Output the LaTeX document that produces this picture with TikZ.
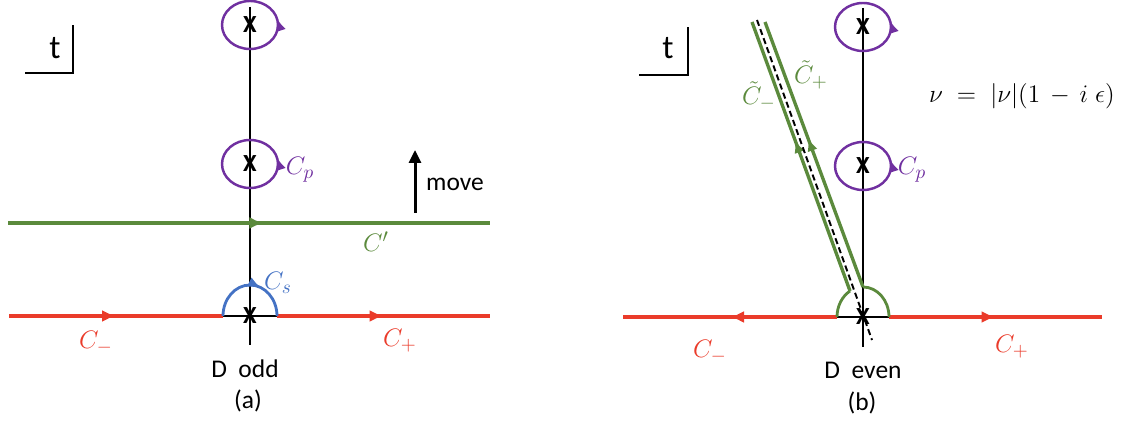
\documentclass[tikz,border=0pt]{standalone}
\usepackage{fontspec}
\setmainfont{Carlito}
\usepackage{xcolor}
\usepackage{tikz}
\usetikzlibrary{arrows.meta,positioning,decorations.markings}
\definecolor{cfred}{HTML}{EA3B2A}
\definecolor{cfgreen}{HTML}{5B8A3C}
\definecolor{cfpurple}{HTML}{7030A0}
\definecolor{cfblue}{HTML}{4472C4}

\begin{document}
\begin{tikzpicture}[
  x=0.02cm, y=0.02cm,
  axis/.style={draw=black, line width=1.1pt},
  redpath/.style={draw=cfred, line width=1.9pt},
  greenpath/.style={draw=cfgreen, line width=1.9pt},
  loop/.style={draw=cfpurple, line width=1.4pt},
  halfloop/.style={line width=1.6pt},
  cut/.style={draw=black, line width=1.1pt, dash pattern=on 3.5pt off 2pt},
  midarrow/.style={postaction={decorate}, decoration={markings,
      mark=at position #1 with {\arrow{Latex[length=2.8mm,width=2.4mm]}}}},
  smallarrow/.style={postaction={decorate}, decoration={markings,
      mark=at position #1 with {\arrow{Latex[length=2.5mm,width=2.1mm]}}}},
  pole/.style={font=\fontsize{14}{14}\selectfont\bfseries, inner sep=0pt},
  lbl/.style={font=\fontsize{15.5}{17}\selectfont, inner sep=0pt},
  txt/.style={font=\fontsize{14.5}{16}\selectfont, inner sep=0pt},
  tlabel/.style={font=\fontsize{19}{21}\selectfont, inner sep=0pt}
]
\useasboundingbox (0,0) rectangle (1125,-421);

% ---- (a) D odd ----
\coordinate (atop) at (250,-7);
\coordinate (abot) at (250,-345);
\draw[axis] (atop) -- (abot);

\node[pole] (ap1) at (250,-25) {X};
\node[pole] (ap2) at (250,-164) {X};
\node[pole] (ap0) at (250,-316) {X};

\draw[loop, smallarrow=0.04] (ap1) ++(28,0) arc[start angle=0, end angle=360, x radius=28, y radius=24];
\draw[loop, smallarrow=0.04] (ap2) ++(28,0) arc[start angle=0, end angle=360, x radius=28, y radius=24];

\coordinate (gL) at (8,-223);
\coordinate (gR) at (490,-223);
\draw[greenpath, midarrow=0.53] (gL) -- (gR);

\coordinate (rL) at (9,-316);
\coordinate (sL) at (223,-316);
\coordinate (sR) at (277,-316);
\coordinate (rR) at (490,-316);
\draw[redpath, midarrow=0.5] (rL) -- (sL);
\draw[redpath, midarrow=0.5] (sR) -- (rR);
\draw[axis] (sL) -- (sR);
\draw[halfloop, draw=cfblue, smallarrow=0.62] (sL) arc[start angle=180, end angle=0, x radius=27, y radius=31];

\node[lbl, text=cfpurple] (acp) at (300,-170) {$C_p$};
\node[lbl, text=cfgreen] (acprime) at (376,-242) {$C'$};
\node[lbl, text=cfblue] (acs) at (278,-283) {$C_s$};
\node[lbl, text=cfred] (acm) at (96,-343) {$C_-$};
\node[lbl, text=cfred] (acp2) at (400,-341) {$C_+$};

\coordinate (mv0) at (415,-213);
\coordinate (mv1) at (415,-150);
\draw[line width=1.7pt, -{Triangle[length=2.6mm,width=2.4mm]}] (mv0) -- (mv1);
\node[txt] (move) at (455,-184) {move};

\node[txt] (aname) at (245,-369) {D\ \ odd};
\node[txt] (atag) at (248,-401) {(a)};

\node[tlabel] (at) at (55,-48) {t};
\coordinate (ac1) at (25,-73);
\coordinate (ac2) at (73,-73);
\coordinate (ac3) at (73,-25);
\draw[line width=1.1pt] (ac1) -- (ac2) -- (ac3);

% ---- (b) D even ----
\coordinate (btop) at (863,-8);
\coordinate (bbot) at (863,-347);
\draw[axis] (btop) -- (bbot);

\node[pole] (bp1) at (863,-27) {X};
\node[pole] (bp2) at (863,-166) {X};
\node[pole] (bp0) at (863,-317) {X};

\draw[loop, smallarrow=0.04] (bp1) ++(28,0) arc[start angle=0, end angle=360, x radius=28, y radius=24];
\draw[loop, smallarrow=0.04] (bp2) ++(28,0) arc[start angle=0, end angle=360, x radius=28, y radius=24];

\coordinate (qL) at (623,-317);
\coordinate (tL) at (837,-317);
\coordinate (tR) at (889,-317);
\coordinate (qR) at (1102,-317);
\draw[redpath, midarrow=0.5] (tL) -- (qL);
\draw[redpath, midarrow=0.5] (tR) -- (qR);
\draw[axis] (tL) -- (tR);

\coordinate (k1) at (850,-291);
\coordinate (k2) at (863,-287);
\draw[halfloop, draw=cfgreen] (tL) arc[start angle=180, end angle=120, x radius=26, y radius=30];
\draw[halfloop, draw=cfgreen] (k2) arc[start angle=90, end angle=0, x radius=26, y radius=30];

\coordinate (m1) at (752,-22);
\coordinate (m2) at (765,-22);
\draw[greenpath, smallarrow=0.56] (k1) -- (m1);
\draw[greenpath, smallarrow=0.56] (k2) -- (m2);

\coordinate (c0) at (757,-20);
\coordinate (c1) at (872,-340);
\draw[cut] (c0) -- (c1);

\node[lbl, text=cfpurple] (bcp) at (912,-170) {$C_p$};
\node[lbl, text=cfgreen] (bctp) at (811,-75) {$\tilde{C}_+$};
\node[lbl, text=cfgreen] (bctm) at (759,-96) {$\tilde{C}_-$};
\node[lbl, anchor=east] (nu) at (1115,-96) {$\nu\;=\;|\nu|(1\,-\,i\;\epsilon)$};
\node[lbl, text=cfred] (bcm) at (710,-352) {$C_-$};
\node[lbl, text=cfred] (bcp2) at (1012,-347) {$C_+$};

\node[txt] (bname) at (863,-370) {D\ \ even};
\node[txt] (btag) at (862,-403) {(b)};

\node[tlabel] (bt) at (668,-48) {t};
\coordinate (bc1) at (639,-75);
\coordinate (bc2) at (688,-75);
\coordinate (bc3) at (688,-27);
\draw[line width=1.1pt] (bc1) -- (bc2) -- (bc3);
\end{tikzpicture}
\end{document}
